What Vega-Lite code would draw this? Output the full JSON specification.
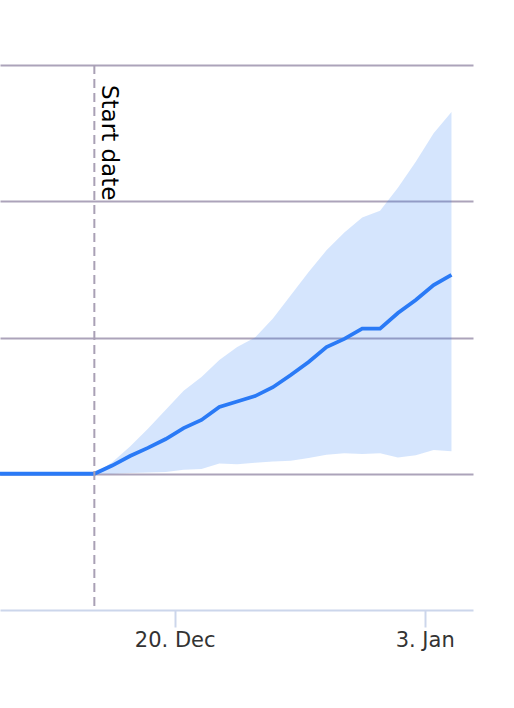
{
  "$schema": "https://vega.github.io/schema/vega-lite/v6.json",
  "width": 473,
  "height": 545,
  "autosize": {"type": "none"},
  "padding": {"left": 0, "top": 65, "right": 41, "bottom": 98},
  "background": "white",
  "config": {
    "view": {"stroke": null},
    "font": "DejaVu Sans"
  },
  "datasets": {
    "series": [
      {"date": "2020-12-09T12:00:00", "mean": 0},
      {"date": "2020-12-10T12:00:00", "mean": 0},
      {"date": "2020-12-11T12:00:00", "mean": 0},
      {"date": "2020-12-12T12:00:00", "mean": 0},
      {"date": "2020-12-13T12:00:00", "mean": 0},
      {"date": "2020-12-14T12:00:00", "mean": 0},
      {"date": "2020-12-15T12:00:00", "mean": 0, "lower": 0, "upper": 0},
      {"date": "2020-12-16T12:00:00", "mean": 0.06, "lower": 0.0, "upper": 0.085},
      {"date": "2020-12-17T12:00:00", "mean": 0.13, "lower": 0.005, "upper": 0.2},
      {"date": "2020-12-18T12:00:00", "mean": 0.19, "lower": 0.01, "upper": 0.33},
      {"date": "2020-12-19T12:00:00", "mean": 0.255, "lower": 0.013, "upper": 0.47},
      {"date": "2020-12-20T12:00:00", "mean": 0.335, "lower": 0.03, "upper": 0.61},
      {"date": "2020-12-21T12:00:00", "mean": 0.395, "lower": 0.035, "upper": 0.71},
      {"date": "2020-12-22T12:00:00", "mean": 0.49, "lower": 0.075, "upper": 0.835},
      {"date": "2020-12-23T12:00:00", "mean": 0.53, "lower": 0.07, "upper": 0.93},
      {"date": "2020-12-24T12:00:00", "mean": 0.57, "lower": 0.08, "upper": 1.0},
      {"date": "2020-12-25T12:00:00", "mean": 0.635, "lower": 0.09, "upper": 1.14},
      {"date": "2020-12-26T12:00:00", "mean": 0.725, "lower": 0.095, "upper": 1.31},
      {"date": "2020-12-27T12:00:00", "mean": 0.82, "lower": 0.115, "upper": 1.48},
      {"date": "2020-12-28T12:00:00", "mean": 0.93, "lower": 0.14, "upper": 1.64},
      {"date": "2020-12-29T12:00:00", "mean": 0.99, "lower": 0.15, "upper": 1.77},
      {"date": "2020-12-30T12:00:00", "mean": 1.065, "lower": 0.145, "upper": 1.88},
      {"date": "2020-12-31T12:00:00", "mean": 1.065, "lower": 0.15, "upper": 1.93},
      {"date": "2021-01-01T12:00:00", "mean": 1.18, "lower": 0.12, "upper": 2.1},
      {"date": "2021-01-02T12:00:00", "mean": 1.275, "lower": 0.135, "upper": 2.29},
      {"date": "2021-01-03T12:00:00", "mean": 1.385, "lower": 0.175, "upper": 2.5},
      {"date": "2021-01-04T12:00:00", "mean": 1.46, "lower": 0.165, "upper": 2.655}
    ],
    "markers": [
      {"date": "2020-12-15T12:00:00", "label": "Start date"}
    ]
  },
  "encoding": {
    "x": {
      "field": "date",
      "type": "temporal",
      "scale": {
        "domain": [
          {"year": 2020, "month": 12, "date": 10, "hours": 5, "minutes": 12},
          {"year": 2021, "month": 1, "date": 5, "hours": 16, "minutes": 55}
        ]
      },
      "axis": {
        "title": null,
        "values": [
          {"year": 2020, "month": 12, "date": 20},
          {"year": 2021, "month": 1, "date": 3}
        ],
        "format": "%-d. %b",
        "grid": false,
        "domainColor": "#ccd6eb",
        "domainWidth": 2,
        "tickColor": "#ccd6eb",
        "tickWidth": 2,
        "tickSize": 17,
        "labelPadding": 2,
        "labelColor": "#333333",
        "labelFontSize": 21,
        "labelFont": "DejaVu Sans"
      }
    }
  },
  "layer": [
    {
      "data": {"name": "series"},
      "transform": [{"filter": "isValid(datum.upper)"}],
      "mark": {"type": "area", "color": "#2b7cf6", "opacity": 0.2, "clip": true},
      "encoding": {
        "y": {
          "field": "lower",
          "type": "quantitative",
          "scale": {"domain": [-1, 3], "nice": false, "zero": false},
          "axis": {
            "title": null,
            "values": [0, 1, 2, 3],
            "labels": false,
            "ticks": false,
            "domain": false,
            "grid": true,
            "gridColor": "#aca3ba",
            "gridWidth": 2
          }
        },
        "y2": {"field": "upper"}
      }
    },
    {
      "data": {"name": "series"},
      "mark": {"type": "line", "color": "#2a7af6", "strokeWidth": 3.8, "clip": true},
      "encoding": {
        "y": {"field": "mean", "type": "quantitative"}
      }
    },
    {
      "data": {"name": "markers"},
      "mark": {"type": "rule", "color": "#a9a0b5", "strokeWidth": 2, "strokeDash": [9, 5]},
      "encoding": {}
    },
    {
      "data": {"name": "markers"},
      "mark": {
        "type": "text",
        "angle": 90,
        "align": "left",
        "baseline": "alphabetic",
        "dx": 20,
        "dy": -8,
        "fontSize": 23,
        "font": "DejaVu Sans",
        "color": "#000000"
      },
      "encoding": {
        "y": {"datum": 3},
        "text": {"field": "label"}
      }
    }
  ]
}
